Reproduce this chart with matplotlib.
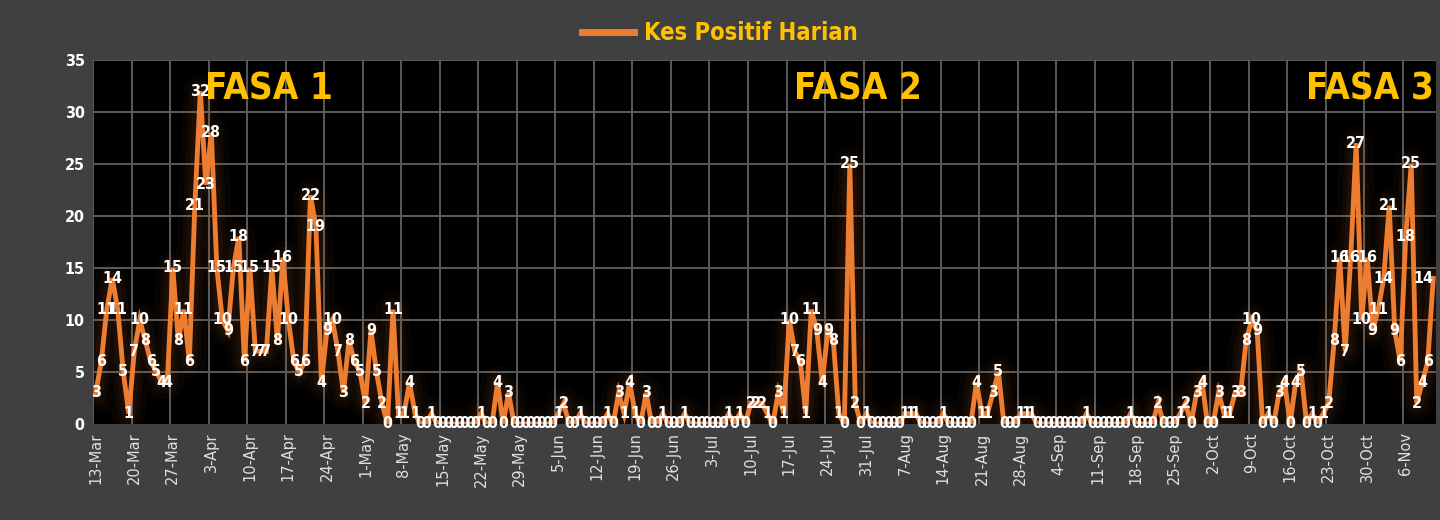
import matplotlib

matplotlib.use("Agg")
import matplotlib.pyplot as plt
from matplotlib.font_manager import FontProperties
import numpy as np

# daily new cases, 13-Mar .. 11-Nov (one row per week)
cases = [
    3, 6, 11, 14, 11, 5, 1,
    7, 10, 8, 6, 5, 4, 4,
    15, 8, 11, 6, 21, 32, 23,
    28, 15, 10, 9, 15, 18, 6,
    15, 7, 7, 7, 15, 8, 16,
    10, 6, 5, 6, 22, 19, 4,
    9, 10, 7, 3, 8, 6, 5,
    2, 9, 5, 2, 0, 11, 1,
    1, 4, 1, 0, 0, 1, 0,
    0, 0, 0, 0, 0, 0, 0,
    1, 0, 0, 4, 0, 3, 0,
    0, 0, 0, 0, 0, 0, 0,
    1, 2, 0, 0, 1, 0, 0,
    0, 0, 1, 0, 3, 1, 4,
    1, 0, 3, 0, 0, 1, 0,
    0, 0, 1, 0, 0, 0, 0,
    0, 0, 0, 1, 0, 1, 0,
    2, 2, 2, 1, 0, 3, 1,
    10, 7, 6, 1, 11, 9, 4,
    9, 8, 1, 0, 25, 2, 0,
    1, 0, 0, 0, 0, 0, 0,
    1, 1, 1, 0, 0, 0, 0,
    1, 0, 0, 0, 0, 0, 4,
    1, 1, 3, 5, 0, 0, 0,
    1, 1, 1, 0, 0, 0, 0,
    0, 0, 0, 0, 0, 1, 0,
    0, 0, 0, 0, 0, 0, 1,
    0, 0, 0, 0, 2, 0, 0,
    0, 1, 2, 0, 3, 4, 0,
    0, 3, 1, 1, 3, 3, 8,
    10, 9, 0, 1, 0, 3, 4,
    0, 4, 5, 0, 1, 0, 1,
    2, 8, 16, 7, 16, 27, 10,
    16, 9, 11, 14, 21, 9, 6,
    18, 25, 2, 4, 6, 14,
]

tick_labels = [
    "13-Mar", "20-Mar", "27-Mar", "3-Apr", "10-Apr", "17-Apr", "24-Apr",
    "1-May", "8-May", "15-May", "22-May", "29-May", "5-Jun", "12-Jun",
    "19-Jun", "26-Jun", "3-Jul", "10-Jul", "17-Jul", "24-Jul", "31-Jul",
    "7-Aug", "14-Aug", "21-Aug", "28-Aug", "4-Sep", "11-Sep", "18-Sep",
    "25-Sep", "2-Oct", "9-Oct", "16-Oct", "23-Oct", "30-Oct", "6-Nov",
]

phase_names = ["FASA 1", "FASA 2", "FASA 3"]
phase_x = [31.5, 138.5, 231.5]

series_name = "Kes Positif Harian"

ORANGE = "#ED7D31"
GOLD = "#FFC000"
BG = "#404040"
GRID = "#5a5a5a"
NARROW = dict(family="DejaVu Sans", stretch="condensed", weight="bold")

x = np.arange(len(cases))

fig = plt.figure(figsize=(14.4, 5.2), dpi=100, facecolor=BG)
ax = fig.add_axes([93 / 1440, 1 - 424 / 520, (1436 - 93) / 1440, (424 - 60) / 520])
ax.set_facecolor("black")

# soft glow under the line
for lw, a in [(24, 0.035), (16, 0.045), (10, 0.06)]:
    ax.plot(x, cases, color=ORANGE, lw=lw, alpha=a, solid_joinstyle="round", zorder=2)
ax.plot(x, cases, color=ORANGE, lw=3.5, solid_joinstyle="miter", zorder=3, label=series_name)

last = len(cases) - 1
for xi, v in zip(x, cases):
    # last label pulled inside the plot like the original
    ax.text(xi, v, str(v), ha="right" if xi == last else "center", va="center",
            color="white", fontsize=11.5, zorder=4, **NARROW)

for name, px in zip(phase_names, phase_x):
    ax.text(px, 32.2, name, ha="center", va="center", color=GOLD, fontsize=26.5,
            zorder=5, **NARROW)

ax.set_xlim(-0.5, len(cases) - 0.5)
ax.set_ylim(0, 35)
ax.set_yticks(np.arange(0, 36, 5))
ax.set_xticks(np.arange(0, len(cases), 7))
ax.set_xticklabels(tick_labels, rotation=90, color="#e0e0e0", fontsize=10.5)
for lbl in ax.get_yticklabels():
    lbl.set_color("white")
    lbl.set_fontproperties(FontProperties(size=11.5, **NARROW))
ax.tick_params(length=0, pad=6)

# gridlines: horizontal at ticks, vertical between categories every week
for yv in np.arange(5, 36, 5):
    ax.axhline(yv, color=GRID, lw=1.4, zorder=1)
for xv in np.arange(-0.5, len(cases), 7):
    ax.axvline(xv, color=GRID, lw=1.4, zorder=1)
for s in ax.spines.values():
    s.set_visible(False)

leg = fig.legend(loc="center", bbox_to_anchor=(0.5, 1 - 33 / 520), frameon=False,
                 handlelength=2.2, handletextpad=0.45,
                 prop=dict(size=17, **NARROW))
for t in leg.get_texts():
    t.set_color(GOLD)
for h in leg.get_lines():
    h.set_linewidth(5)

fig.savefig("out.png", facecolor=BG)
